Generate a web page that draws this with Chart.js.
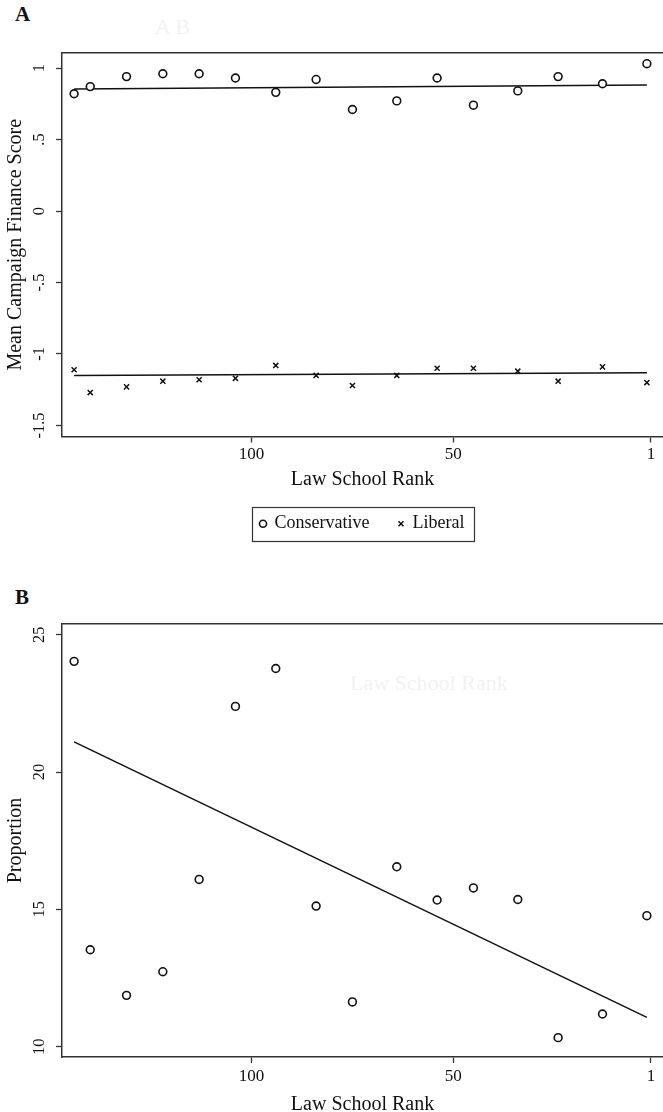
<!DOCTYPE html>
<html lang="en">
<head>
<meta charset="UTF-8">
<title>Law School Rank</title>
<script src="https://cdn.jsdelivr.net/npm/chart.js"></script>
<style>
  body { margin: 0; background: #fff; width: 663px; height: 1112px; overflow: hidden; position: relative; font-family: "Liberation Serif", serif; }
  .panel { position: absolute; left: 0; }
  .tag { position: absolute; left: 15px; font-weight: bold; font-size: 21px; color: #111; }
  .ghost { position: absolute; color: #f2f2f2; font-size: 22px; }
</style>
</head>
<body>
<div class="tag" style="top:2px">A</div>
<div class="ghost" style="left:155px;top:14px">A B</div>
<div class="panel" style="top:0"><canvas id="chartA" width="663" height="560"></canvas></div>
<div class="tag" style="top:585px">B</div>
<div class="ghost" style="left:350px;top:670px">Law School Rank</div>
<div class="panel" style="top:580px"><canvas id="chartB" width="663" height="532"></canvas></div>

<script>
    // rank bins (x) and values per panel
    const rank = [144, 140, 131, 122, 113, 104, 94, 84, 75, 64, 54, 45, 34, 24, 13, 2];
    const conservative = [0.82, 0.87, 0.94, 0.96, 0.96, 0.93, 0.83, 0.92, 0.71, 0.77, 0.93, 0.74, 0.84, 0.94, 0.89, 1.03];
    const liberal = [-1.11, -1.27, -1.23, -1.19, -1.18, -1.17, -1.08, -1.15, -1.22, -1.15, -1.10, -1.10, -1.12, -1.19, -1.09, -1.20];
    const proportion = [24.03, 13.53, 11.87, 12.73, 16.09, 22.39, 23.77, 15.12, 11.63, 16.55, 15.34, 15.78, 15.36, 10.33, 11.19, 14.77];

    // fitted lines (end points)
    const fitRank = [144, 2];
    const fitConservative = [0.854, 0.882];
    const fitLiberal = [-1.151, -1.132];
    const fitProportion = [21.1, 11.07];

    const xTicks = [100, 50, 1];
    const yTicksA = [1, 0.5, 0, -0.5, -1, -1.5];
    const yTicksB = [25, 20, 15, 10];

    const serif = '"Liberation Serif", "Times New Roman", serif';
    const ink = '#111';
    const axisCol = '#333';

    const pts = (xs, ys) => xs.map((x, i) => ({ x: x, y: ys[i] }));

    function xScale(h, tickPad, titlePad) {
        return {
            type: 'linear', reverse: true, min: -2, max: 147,
            afterBuildTicks: s => { s.ticks = xTicks.map(v => ({ value: v })); },
            afterFit: s => { s.height = h; s.paddingLeft = 0; s.paddingRight = 0; },
            grid: { display: true, drawOnChartArea: false, drawTicks: true, tickLength: 6, tickColor: axisCol, tickWidth: 1.3 },
            border: { display: true, color: axisCol, width: 1.5 },
            ticks: { color: ink, font: { family: serif, size: 17 }, padding: tickPad, maxRotation: 0, autoSkip: false, callback: v => String(v) },
            title: { display: true, text: 'Law School Rank', color: ink, font: { family: serif, size: 20 }, padding: { top: 0, bottom: titlePad } }
        };
    }

    function topScale() {
        return {
            type: 'linear', position: 'top', reverse: true, min: -2, max: 147,
            afterFit: s => { s.height = 0; s.paddingLeft = 0; s.paddingRight = 0; },
            grid: { display: false },
            border: { display: true, color: axisCol, width: 1.5 },
            ticks: { display: false }
        };
    }

    function yScale(min, max, ticks, title, pad, fmt) {
        return {
            type: 'linear', min: min, max: max,
            afterBuildTicks: s => { s.ticks = ticks.map(v => ({ value: v })); },
            afterFit: s => { s.width = 62; },
            grid: { display: true, drawOnChartArea: false, drawTicks: true, tickLength: 6, tickColor: axisCol, tickWidth: 1.3 },
            border: { display: true, color: axisCol, width: 1.5 },
            ticks: { color: ink, font: { family: serif, size: 16.5 }, minRotation: 90, maxRotation: 90, crossAlign: 'center', padding: pad, callback: fmt },
            title: { display: true, text: title, color: ink, font: { family: serif, size: 20 }, padding: { top: 4, bottom: 0 } }
        };
    }

    // box round the legend, like Stata draws it
    const legendBox = {
        id: 'legendBox',
        afterDraw(chart) {
            const lg = chart.legend;
            if (!lg || !lg.legendHitBoxes || !lg.legendHitBoxes.length) return;
            const b = lg.legendHitBoxes;
            const l = Math.min(...b.map(h => h.left)) - 9;
            const r = Math.max(...b.map(h => h.left + h.width)) + 9;
            const t = Math.min(...b.map(h => h.top)) - 8;
            const bt = Math.max(...b.map(h => h.top + h.height)) + 8;
            const ctx = chart.ctx;
            ctx.save();
            ctx.strokeStyle = axisCol;
            ctx.lineWidth = 1.2;
            ctx.strokeRect(Math.round(l) + 0.5, Math.round(t) + 0.5, Math.round(r - l), Math.round(bt - t));
            ctx.restore();
        }
    };

    const markerCircle = { pointStyle: 'circle', pointRadius: 3.9, pointHoverRadius: 3.9, borderColor: ink, backgroundColor: '#fff', pointBorderWidth: 1.6, showLine: false };
    const lineStyle = { borderColor: ink, borderWidth: 1.5, pointRadius: 0, showLine: true, fill: false };

    new Chart(document.getElementById('chartA'), {
        type: 'scatter',
        data: {
            datasets: [
                Object.assign({ label: 'Conservative', data: pts(rank, conservative) }, markerCircle),
                { label: 'Liberal', data: pts(rank, liberal), pointStyle: 'crossRot', pointRadius: 3.6, pointHoverRadius: 3.6, borderColor: ink, backgroundColor: ink, pointBorderWidth: 1.5, showLine: false },
                Object.assign({ label: 'fitC', data: pts(fitRank, fitConservative) }, lineStyle),
                Object.assign({ label: 'fitL', data: pts(fitRank, fitLiberal) }, lineStyle)
            ]
        },
        options: {
            responsive: false,
            animation: false,
            layout: { autoPadding: false, padding: { top: 53, right: 0, left: 0, bottom: 17.25 } },
            scales: {
                x: xScale(49.25, 1.5, -6.25),
                xTop: topScale(),
                y: yScale(-1.577, 1.105, yTicksA, 'Mean Campaign Finance Score', 3.5, v => String(v).replace('0.', '.'))
            },
            plugins: {
                tooltip: { enabled: false },
                legend: {
                    display: true, position: 'bottom', fullSize: false,
                    labels: {
                        usePointStyle: true, boxWidth: 5, boxHeight: 5, padding: 29, color: ink,
                        font: { family: serif, size: 18 },
                        filter: item => item.datasetIndex < 2
                    }
                }
            }
        },
        plugins: [legendBox]
    });

    new Chart(document.getElementById('chartB'), {
        type: 'scatter',
        data: {
            datasets: [
                Object.assign({ label: 'Proportion', data: pts(rank, proportion) }, markerCircle),
                Object.assign({ label: 'fit', data: pts(fitRank, fitProportion) }, lineStyle)
            ]
        },
        options: {
            responsive: false,
            animation: false,
            layout: { autoPadding: false, padding: { top: 44, right: 0, left: 0, bottom: 0 } },
            scales: {
                x: xScale(55, 3.5, -4.5),
                xTop: topScale(),
                y: yScale(9.625, 25.39, yTicksB, 'Proportion', 8, v => String(v))
            },
            plugins: {
                tooltip: { enabled: false },
                legend: { display: false }
            }
        }
    });
</script>
</body>
</html>
